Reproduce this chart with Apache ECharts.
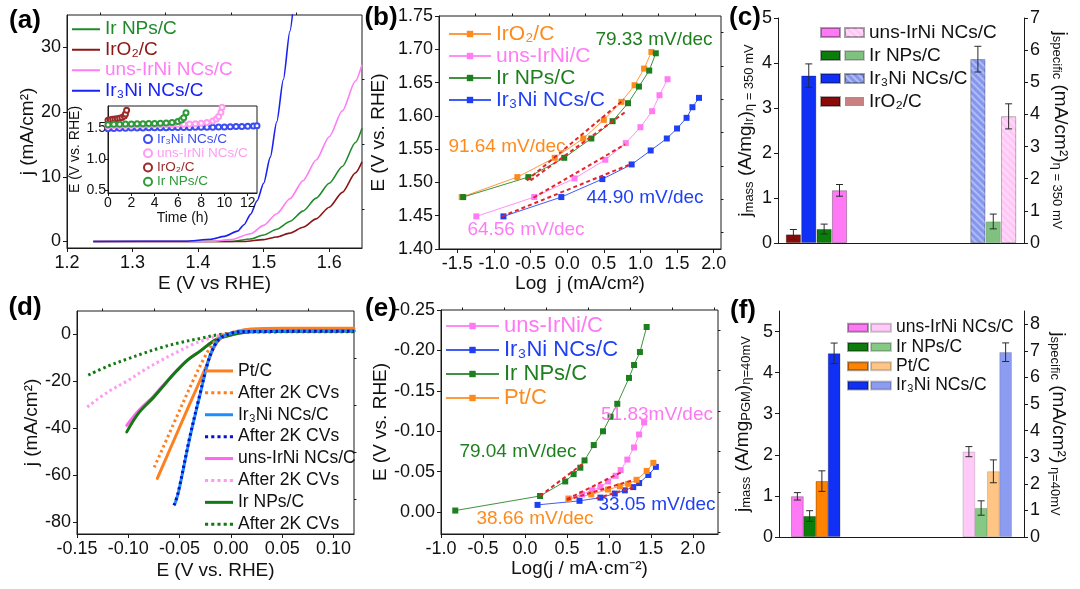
<!DOCTYPE html>
<html><head><meta charset="utf-8">
<script src="https://cdn.jsdelivr.net/npm/echarts@6/dist/echarts.min.js"></script>
<style>
html,body{margin:0;padding:0;background:#fff;}
#wrap{position:relative;width:1080px;height:589px;overflow:hidden;background:#fff;}
.layer{position:absolute;left:0;top:0;width:1080px;height:589px;}
</style></head><body><div id="wrap">
<div class="layer" id="pa"></div><div class="layer" id="pb"></div><div class="layer" id="pc"></div>
<div class="layer" id="pd"></div><div class="layer" id="pe"></div><div class="layer" id="pf"></div>
<div class="layer" id="pins"></div>
</div>
<script>
// ================= DATA =================
// (a) OER polarization curves  [E (V vs RHE), j (mA/cm2)]
const aXTicks = [1.2, 1.3, 1.4, 1.5, 1.6];
const aYTicks = [0, 10, 20, 30];
const aIrNP  = [[1.24,0],[1.45,0],[1.48,0.4],[1.50,1.0],[1.52,1.9],[1.54,3.1],[1.56,4.7],[1.58,6.7],[1.60,9.0],[1.62,11.6],[1.64,15.3],[1.65,17.5]];
const aIrO2  = [[1.24,0],[1.47,0],[1.50,0.3],[1.52,0.7],[1.54,1.3],[1.56,2.2],[1.58,3.5],[1.60,5.3],[1.62,7.6],[1.64,10.6],[1.65,12.3]];
const aUns   = [[1.24,0],[1.42,0],[1.45,0.3],[1.48,1.2],[1.50,2.5],[1.52,4.3],[1.54,6.6],[1.56,9.4],[1.58,12.6],[1.60,16.2],[1.62,20.2],[1.64,24.8],[1.65,27.3]];
const aIr3Ni = [[1.24,0],[1.38,0.05],[1.42,0.35],[1.44,0.8],[1.46,1.6],[1.47,2.6],[1.48,4.2],[1.49,6.3],[1.50,9.0],[1.51,13.0],[1.52,18.5],[1.53,25.0],[1.54,32.5],[1.546,37]];
// (a) inset: chronopotentiometry [time (h), E (V vs RHE)]
const insXTicks = [0, 2, 4, 6, 8, 10, 12];
const insYTicks = [0.5, 1.0, 1.5];
const insIr3Ni = [[0,1.485],[0.5,1.488],[1,1.49],[1.5,1.492],[2,1.494],[2.5,1.495],[3,1.497],[3.5,1.498],[4,1.5],[4.5,1.501],[5,1.502],[5.5,1.503],[6,1.504],[6.5,1.505],[7,1.506],[7.5,1.507],[8,1.508],[8.5,1.509],[9,1.51],[9.5,1.512],[10,1.514],[10.5,1.516],[11,1.519],[11.5,1.522],[12,1.526],[12.5,1.53],[12.8,1.533]];
const insUns   = [[0,1.53],[0.5,1.535],[1,1.538],[1.5,1.54],[2,1.542],[2.5,1.544],[3,1.545],[3.5,1.547],[4,1.548],[4.5,1.55],[5,1.551],[5.5,1.553],[6,1.555],[6.5,1.557],[7,1.56],[7.5,1.565],[8,1.572],[8.5,1.585],[9,1.61],[9.3,1.64],[9.5,1.68],[9.7,1.75],[9.8,1.83]];
const insIrO2  = [[0,1.62],[0.2,1.63],[0.4,1.635],[0.6,1.64],[0.8,1.645],[1,1.652],[1.2,1.665],[1.4,1.69],[1.5,1.72],[1.6,1.78]];
const insIrNP  = [[0,1.55],[0.5,1.555],[1,1.558],[1.5,1.56],[2,1.562],[2.5,1.564],[3,1.566],[3.5,1.568],[4,1.57],[4.5,1.573],[5,1.577],[5.5,1.584],[6,1.6],[6.3,1.625],[6.5,1.66],[6.7,1.74]];

// (b) OER Tafel plots [log j, E]
const bXTicks = [-1.5, -1.0, -0.5, 0.0, 0.5, 1.0, 1.5, 2.0];
const bYTicks = [1.40, 1.45, 1.50, 1.55, 1.60, 1.65, 1.70, 1.75];
const bIrO2  = [[-1.44,1.478],[-0.68,1.508],[-0.17,1.537],[0.22,1.566],[0.50,1.594],[0.74,1.621],[0.92,1.646],[1.05,1.671],[1.15,1.696]];
const bUns   = [[-1.24,1.449],[-0.45,1.478],[0.10,1.506],[0.52,1.534],[0.80,1.559],[1.00,1.583],[1.16,1.607],[1.26,1.631],[1.37,1.655]];
const bIrNP  = [[-1.42,1.478],[-0.53,1.508],[-0.04,1.537],[0.33,1.566],[0.62,1.592],[0.83,1.619],[0.98,1.644],[1.12,1.668],[1.21,1.694]];
const bIr3Ni = [[-0.87,1.449],[-0.08,1.478],[0.48,1.505],[0.88,1.527],[1.14,1.548],[1.36,1.566],[1.50,1.581],[1.63,1.597],[1.71,1.613],[1.80,1.627]];
const bFitIrO2  = [[-0.55,1.503],[0.78,1.625]];
const bFitIrNP  = [[-0.50,1.503],[0.81,1.607]];
const bFitUns   = [[-0.46,1.477],[0.79,1.557]];
const bFitIr3Ni = [[-0.89,1.449],[0.88,1.528]];
const bSlopeTexts = ['79.33 mV/dec', '91.64 mV/dec', '44.90 mV/dec', '64.56 mV/dec'];

// (c) OER activity bars
const cMassNames = ['IrO₂/C', 'Ir₃Ni NCs/C', 'Ir NPs/C', 'uns-IrNi NCs/C'];
const cMass      = [0.19, 3.72, 0.31, 1.17];
const cMassErr   = [0.11, 0.26, 0.11, 0.13];
const cSpecNames = ['Ir₃Ni NCs/C', 'Ir NPs/C', 'uns-IrNi NCs/C'];
const cSpec      = [5.72, 0.67, 3.94];
const cSpecErr   = [0.40, 0.23, 0.39];
const cLeftTicks  = [0, 1, 2, 3, 4, 5];
const cRightTicks = [0, 1, 2, 3, 4, 5, 6, 7];

// (d) HER polarization curves [E, j]
const dXTicks = [-0.15, -0.10, -0.05, 0.00, 0.05, 0.10];
const dYTicks = [-80, -60, -40, -20, 0];
const dPt        = [[-0.0717,-61.3],[-0.053,-42.5],[-0.037,-26.5],[-0.024,-13.5],[-0.017,-6.0],[-0.011,-2.0],[-0.005,-0.3],[0.005,1.2],[0.02,2.3],[0.05,2.6],[0.12,2.6]];
const dPtAfter   = [[-0.0747,-56.6],[-0.056,-38.2],[-0.037,-19.8],[-0.026,-10.0],[-0.018,-4.2],[-0.011,-1.2],[-0.004,0.3],[0.01,1.6],[0.025,2.2],[0.12,2.3]];
const dIr3Ni     = [[-0.0546,-72.2],[-0.051,-67.0],[-0.040,-44.0],[-0.030,-25.5],[-0.0222,-11.5],[-0.017,-5.5],[-0.012,-2.2],[-0.005,-0.2],[0.01,1.3],[0.12,1.6]];
const dIr3NiAft  = [[-0.0555,-72.8],[-0.0515,-67.5],[-0.0405,-44.5],[-0.0305,-26.0],[-0.0225,-12.0],[-0.0172,-5.8],[-0.0122,-2.3],[-0.0052,-0.3],[0.01,1.2],[0.12,1.4]];
const dUns       = [[-0.1015,-38.7],[-0.09,-32.5],[-0.0756,-26.4],[-0.065,-21.2],[-0.053,-15.5],[-0.042,-10.8],[-0.030,-7.1],[-0.022,-4.4],[-0.014,-2.1],[0.002,0.0],[0.02,1.3],[0.12,1.7]];
const dUnsAfter  = [[-0.140,-30.9],[-0.120,-24.5],[-0.101,-19.8],[-0.085,-15.3],[-0.069,-11.3],[-0.053,-7.6],[-0.037,-4.2],[-0.025,-2.2],[-0.014,-0.7],[0.0,0.5],[0.02,1.2],[0.12,1.5]];
const dIrNP      = [[-0.1015,-41.5],[-0.09,-33.5],[-0.0756,-26.9],[-0.065,-21.5],[-0.053,-15.6],[-0.042,-10.8],[-0.030,-7.1],[-0.022,-4.4],[-0.014,-2.1],[0.002,0.0],[0.02,1.2],[0.12,1.5]];
const dIrNPAfter = [[-0.139,-17.3],[-0.12,-13.5],[-0.10,-10.3],[-0.085,-8.0],[-0.069,-5.7],[-0.05,-3.5],[-0.030,-1.7],[-0.011,0.0],[0.02,1.0],[0.12,1.2]];

// (e) HER Tafel plots [log j, E]
const eXTicks = [-1.0, -0.5, 0.0, 0.5, 1.0, 1.5, 2.0];
const eYTicks = [-0.25, -0.20, -0.15, -0.10, -0.05, 0.00];
const eUns   = [[0.52,-0.017],[0.68,-0.022],[0.80,-0.027],[0.90,-0.031],[0.99,-0.038],[1.08,-0.045],[1.14,-0.052],[1.22,-0.065],[1.30,-0.080],[1.36,-0.096],[1.42,-0.111]];
const eIr3Ni = [[0.15,-0.009],[0.65,-0.014],[0.90,-0.018],[1.07,-0.023],[1.19,-0.027],[1.29,-0.031],[1.36,-0.036],[1.47,-0.046],[1.56,-0.056]];
const eIrNP  = [[-0.83,-0.002],[0.18,-0.020],[0.48,-0.038],[0.58,-0.047],[0.66,-0.055],[0.71,-0.064],[0.82,-0.083],[0.93,-0.100],[1.02,-0.118],[1.10,-0.134],[1.24,-0.166],[1.30,-0.182],[1.37,-0.198],[1.45,-0.229]];
const ePt    = [[0.52,-0.016],[0.79,-0.022],[0.99,-0.028],[1.13,-0.032],[1.23,-0.035],[1.33,-0.040],[1.45,-0.051],[1.53,-0.061]];
const eFitIrNP  = [[0.18,-0.020],[0.69,-0.060]];
const eFitUns   = [[0.50,-0.016],[1.14,-0.049]];
const eFitPt    = [[0.50,-0.015],[1.30,-0.040]];
const eFitIr3Ni = [[0.85,-0.017],[1.30,-0.031]];
const eSlopeTexts = ['79.04 mV/dec', '51.83mV/dec', '33.05 mV/dec', '38.66 mV/dec'];

// (f) HER activity bars
const fNames   = ['uns-IrNi NCs/C', 'Ir NPs/C', 'Pt/C', 'Ir₃Ni NCs/C'];
const fMass    = [0.99, 0.51, 1.36, 4.47];
const fMassErr = [0.09, 0.13, 0.25, 0.25];
const fSpec    = [3.21, 1.09, 2.47, 6.95];
const fSpecErr = [0.19, 0.27, 0.43, 0.35];
const fLeftTicks  = [0, 1, 2, 3, 4, 5];
const fRightTicks = [0, 1, 2, 3, 4, 5, 6, 7, 8];

// ================= STYLE HELPERS =================
const FONT = '"Liberation Sans", Arial, Helvetica, sans-serif';
const AX = '#1a1a1a', TXT = '#111';
const fix = d => v => (Math.abs(v) < 1e-9 ? 0 : v).toFixed(d);
const ICON_SOLID = 'rect';
const ICON_DOT = 'path://M0,0h3v3h-3z M6,0h3v3h-3z M12,0h3v3h-3z M18,0h3v3h-3z M24,0h3v3h-3z';

function vAxis(o) {
  return {
    type: 'value', min: o.min, max: o.max, inverse: !!o.inverse, position: o.position,
    splitLine: { show: false },
    axisLine: { show: o.line !== false, onZero: false, lineStyle: { color: AX, width: 1 } },
    axisTick: { show: true, length: o.tickLen || 4, lineStyle: { color: AX }, customValues: o.ticks },
    axisLabel: { show: o.noLabel ? false : true, color: TXT, fontSize: o.fs || 18, fontFamily: FONT, margin: o.margin || 6, customValues: o.ticks, formatter: o.fmt || (v => String(v)) },
    name: o.name, nameLocation: 'middle', nameGap: o.nameGap, nameRotate: o.nameRotate,
    nameTextStyle: Object.assign({ color: TXT, fontSize: o.nfs || 19, fontFamily: FONT }, o.nameStyle || {})
  };
}
// secondary axis that only carries the short minor ticks
function minorAxis(min, max, vals, extra) {
  return Object.assign(vAxis({ min, max, ticks: vals, tickLen: 2.5, line: false, noLabel: true }), extra || {});
}
function lineS(name, data, color, extra) {
  return Object.assign({
    type: 'line', name, data, symbol: 'none', smooth: 0.25, smoothMonotone: 'x',
    lineStyle: { color, width: 1.6 }, itemStyle: { color }, z: 3
  }, extra || {});
}
function tafelS(name, data, color) {
  return { type: 'line', name, data, symbol: 'rect', symbolSize: 6, showAllSymbol: true,
    lineStyle: { color, width: 1, opacity: 0.85 }, itemStyle: { color }, z: 4 };
}
function fitS(data) {
  return { type: 'line', name: 'fit', data, symbol: 'none', silent: true,
    lineStyle: { color: '#e3242b', width: 2, type: [4, 3] }, z: 5 };
}
function txt(x, y, s, color, size, bold) {
  return { type: 'text', x, y, style: { text: s, fill: color, fontSize: size, fontFamily: FONT,
    fontWeight: bold ? 'bold' : 'normal', align: 'center', verticalAlign: 'middle' }, z: 20 };
}
function legendItems(names, colors, icons) {
  return names.map((n, i) => { const it = { name: n, textStyle: { color: colors[i] } }; if (icons) it.icon = icons[i]; return it; });
}
function errS(yAxisIndex, data) {
  return { type: 'custom', yAxisIndex, data, z: 10, silent: true, encode: { x: 0, y: 1 },
    renderItem(params, api) {
      const x = api.value(0), v = api.value(1), e = api.value(2);
      const t = api.coord([x, v + e]), b = api.coord([x, v - e]);
      const hw = 3.5, st = { stroke: '#2a2a2a', lineWidth: 1 };
      return { type: 'group', children: [
        { type: 'line', shape: { x1: t[0], y1: t[1], x2: b[0], y2: b[1] }, style: st },
        { type: 'line', shape: { x1: t[0] - hw, y1: t[1], x2: t[0] + hw, y2: t[1] }, style: st },
        { type: 'line', shape: { x1: b[0] - hw, y1: b[1], x2: b[0] + hw, y2: b[1] }, style: st } ] };
    } };
}
function slotData(n, slot, val) { const d = new Array(n).fill('-'); d[slot] = val; return d; }
const mk = id => echarts.init(document.getElementById(id), null, { width: 1080, height: 589, renderer: 'canvas' });
const SUB = { m: { fontSize: 19, lineHeight: 20, fontFamily: FONT, color: TXT },
              s: { fontSize: 13, lineHeight: 13, fontFamily: FONT, color: TXT, verticalAlign: 'bottom', padding: [9, 0, 0, 0] } };

// ================= (a) =================
const cA = { green: '#1f8a2a', red: '#8b1616', pink: '#ff7cf5', blue: '#1a22f2' };
mk('pa').setOption({
  animation: false, textStyle: { fontFamily: FONT },
  grid: { left: 67, top: 15, width: 295, height: 233, show: true, borderColor: AX, borderWidth: 1 },
  xAxis: [ vAxis({ min: 1.2, max: 1.65, ticks: aXTicks, fmt: fix(1), name: 'E (V vs RHE)', nameGap: 26 }),
           minorAxis(1.2, 1.65, [1.25, 1.35, 1.45, 1.55]) ],
  yAxis: [ vAxis({ min: -1, max: 35, ticks: aYTicks, name: 'j (mA/cm²)', nameGap: 30 }),
           minorAxis(-1, 35, [5, 15, 25]) ],
  legend: { orient: 'vertical', left: 72, top: 19, padding: 0, itemWidth: 28, itemHeight: 2, itemGap: 0, symbolKeepAspect: false,
    textStyle: { fontSize: 19, lineHeight: 20.5, fontFamily: FONT },
    data: legendItems(['Ir NPs/C', 'IrO₂/C', 'uns-IrNi NCs/C', 'Ir₃Ni NCs/C'], [cA.green, cA.red, cA.pink, cA.blue], new Array(4).fill(ICON_SOLID)) },
  series: [
    lineS('Ir NPs/C', aIrNP, cA.green), lineS('IrO₂/C', aIrO2, cA.red),
    lineS('uns-IrNi NCs/C', aUns, cA.pink), lineS('Ir₃Ni NCs/C', aIr3Ni, cA.blue)
  ],
  graphic: [ txt(25, 21, '(a)', '#000', 26, true) ]
});

// ================= inset =================
const cI = { blue: '#3b4cf0', pink: '#ff9cf0', red: '#9b2a2a', green: '#2f9a3a' };
function insS(name, data, color) {
  return { type: 'line', name, data, symbol: 'emptyCircle', symbolSize: 5, showAllSymbol: true,
    lineStyle: { color, width: 3, opacity: 0.8 }, itemStyle: { color, borderWidth: 1 }, z: 3 };
}
mk('pins').setOption({
  animation: false, textStyle: { fontFamily: FONT },
  grid: { left: 108, top: 106, width: 149, height: 87, show: true, borderColor: AX, borderWidth: 1, backgroundColor: '#fff' },
  xAxis: vAxis({ min: 0, max: 12.8, ticks: insXTicks, fs: 14, margin: 3, tickLen: 3, name: 'Time (h)', nameGap: 18, nfs: 14 }),
  yAxis: vAxis({ min: 0.45, max: 1.85, ticks: insYTicks, fmt: fix(1), fs: 14, margin: 2, tickLen: 3, name: 'E (V vs. RHE)', nameGap: 21, nfs: 14 }),
  legend: { orient: 'vertical', left: 143, top: 132, padding: 0, icon: 'emptyCircle', itemWidth: 8, itemHeight: 8, itemGap: 0,
    textStyle: { fontSize: 13.5, lineHeight: 14.2, fontFamily: FONT },
    data: legendItems(['Ir₃Ni NCs/C', 'uns-IrNi NCs/C', 'IrO₂/C', 'Ir NPs/C'], [cI.blue, cI.pink, cI.red, cI.green]) },
  series: [ insS('Ir₃Ni NCs/C', insIr3Ni, cI.blue), insS('uns-IrNi NCs/C', insUns, cI.pink),
            insS('IrO₂/C', insIrO2, cI.red), insS('Ir NPs/C', insIrNP, cI.green) ]
});

// ================= (b) =================
const cB = { orange: '#ff8a1c', pink: '#ff7cf5', green: '#1e7f1e', blue: '#1f3ff5' };
mk('pb').setOption({
  animation: false, textStyle: { fontFamily: FONT },
  grid: { left: 439, top: 16, width: 282, height: 233, show: true, borderColor: AX, borderWidth: 1 },
  xAxis: [ vAxis({ min: -1.75, max: 2.1, ticks: bXTicks, fmt: fix(1), name: 'Log  j (mA/cm²)', nameGap: 25 }),
           minorAxis(-1.75, 2.1, [-1.25, -0.75, -0.25, 0.25, 0.75, 1.25, 1.75]) ],
  yAxis: [ vAxis({ min: 1.40, max: 1.75, ticks: bYTicks, fmt: fix(2), name: 'E (V vs. RHE)', nameGap: 51 }),
           minorAxis(1.40, 1.75, [1.425, 1.475, 1.525, 1.575, 1.625, 1.675, 1.725]) ],
  legend: { orient: 'vertical', left: 448, top: 23, padding: 0, itemWidth: 42, itemHeight: 8, itemGap: 0,
    textStyle: { fontSize: 21, lineHeight: 22, fontFamily: FONT },
    data: legendItems(['IrO₂/C', 'uns-IrNi/C', 'Ir NPs/C', 'Ir₃Ni NCs/C'], [cB.orange, cB.pink, cB.green, cB.blue]) },
  series: [
    tafelS('IrO₂/C', bIrO2, cB.orange), tafelS('uns-IrNi/C', bUns, cB.pink),
    tafelS('Ir NPs/C', bIrNP, cB.green), tafelS('Ir₃Ni NCs/C', bIr3Ni, cB.blue),
    fitS(bFitIrO2), fitS(bFitIrNP), fitS(bFitUns), fitS(bFitIr3Ni)
  ],
  graphic: [ txt(381, 18, '(b)', '#000', 26, true),
    txt(654, 40, bSlopeTexts[0], cB.green, 19), txt(507, 147, bSlopeTexts[1], cB.orange, 19),
    txt(645, 198, bSlopeTexts[2], cB.blue, 19), txt(526, 230, bSlopeTexts[3], cB.pink, 19) ]
});

// ================= (c) =================
const C_SLOTS = 17, cMassSlots = [1, 2, 3, 4], cSpecSlots = [13, 14, 15];
const cSolid = { 'IrO₂/C': '#8b0a0a', 'Ir₃Ni NCs/C': '#1030f5', 'Ir NPs/C': '#0b7d0b', 'uns-IrNi NCs/C': '#ff78f5' };
const cLight = { 'IrO₂/C': '#c98080', 'Ir₃Ni NCs/C': '#8596ee', 'Ir NPs/C': '#7fc17f', 'uns-IrNi NCs/C': '#ffc6f6' };
const hatch = { symbol: 'rect', symbolSize: 1, color: 'rgba(255,255,255,0.35)', dashArrayX: [1, 0], dashArrayY: [2, 3], rotation: Math.PI / 4 };
const cSeries = [];
cMassNames.forEach((n, i) => cSeries.push({ type: 'bar', name: n, yAxisIndex: 0, barWidth: 15, barGap: '-100%',
  data: slotData(C_SLOTS, cMassSlots[i], cMass[i]), itemStyle: { color: cSolid[n], borderColor: 'rgba(0,0,0,0.35)', borderWidth: 0.8 } }));
cSpecNames.forEach((n, i) => cSeries.push({ type: 'bar', name: n + ' ', yAxisIndex: 1, barWidth: 15, barGap: '-100%',
  data: slotData(C_SLOTS, cSpecSlots[i], cSpec[i]),
  itemStyle: { color: cLight[n], borderColor: 'rgba(0,0,0,0.2)', borderWidth: 0.8, decal: n === 'Ir NPs/C' ? null : hatch } }));
cSeries.push({ type: 'bar', name: 'IrO₂/C ', yAxisIndex: 1, barWidth: 15, barGap: '-100%', data: [], itemStyle: { color: cLight['IrO₂/C'] } });
cSeries.push(errS(0, cMass.map((v, i) => [cMassSlots[i], v, cMassErr[i]])));
cSeries.push(errS(1, cSpec.map((v, i) => [cSpecSlots[i], v, cSpecErr[i]])));
const cLegOrder = ['uns-IrNi NCs/C', 'Ir NPs/C', 'Ir₃Ni NCs/C', 'IrO₂/C'];
mk('pc').setOption({
  animation: false, textStyle: { fontFamily: FONT },
  grid: { left: 778, top: 18, width: 246, height: 225 },
  xAxis: { type: 'category', boundaryGap: false, data: new Array(C_SLOTS).fill(''), axisTick: { show: false }, axisLabel: { show: false },
    axisLine: { lineStyle: { color: AX } } },
  yAxis: [
    vAxis({ min: 0, max: 5, ticks: cLeftTicks, name: '{m|j}{s|mass}{m| (A/mg}{s|Ir}{m|)}{s|η = 350 mV}', nameGap: 22, nameStyle: { rich: SUB } }),
    vAxis({ min: 0, max: 7, ticks: cRightTicks, position: 'right', name: '{m|j}{s|specific}{m| (mA/cm²)}{s|η = 350 mV}', nameGap: 26, nameRotate: -90, nameStyle: { rich: SUB } })
  ],
  legend: [
    { orient: 'vertical', left: 820, top: 21, padding: 0, icon: 'rect', itemWidth: 19, itemHeight: 9, itemGap: 0, formatter: () => ' ',
      textStyle: { fontSize: 19, lineHeight: 23 }, data: cLegOrder },
    { orient: 'vertical', left: 844, top: 21, padding: 0, icon: 'rect', itemWidth: 19, itemHeight: 9, itemGap: 0, formatter: n => n.trim(),
      textStyle: { fontSize: 19, lineHeight: 23, color: TXT, fontFamily: FONT }, data: cLegOrder.map(n => n + ' ') }
  ],
  series: cSeries,
  graphic: [ txt(745, 18, '(c)', '#000', 26, true) ]
});

// ================= (d) =================
const cD = { orange: '#ff7f1e', blue: '#1e8cff', dblue: '#0a12c8', pink: '#ff66f0', lpink: '#ff99f2', green: '#137a13' };
const dLegendNames = ['Pt/C', 'Pt/C after', 'Ir₃Ni NCs/C', 'Ir₃Ni after', 'uns-IrNi NCs/C', 'uns-IrNi after', 'Ir NPs/C', 'Ir NPs after'];
const dLabel = n => n.endsWith('after') ? 'After 2K CVs' : n;
const solidD = (n, d, c) => lineS(n, d, c, { smooth: 0.35, smoothMonotone: null, lineStyle: { color: c, width: 3, join: 'round', cap: 'round' } });
const dotD = (n, d, c) => lineS(n, d, c, { smooth: 0.35, smoothMonotone: null, lineStyle: { color: c, width: 3, type: [2.5, 3] } });
mk('pd').setOption({
  animation: false, textStyle: { fontFamily: FONT },
  grid: { left: 77, top: 311, width: 277, height: 223, show: true, borderColor: AX, borderWidth: 1 },
  xAxis: [ vAxis({ min: -0.15, max: 0.12, ticks: dXTicks, fmt: fix(2), name: 'E (V vs. RHE)', nameGap: 27 }),
           minorAxis(-0.15, 0.12, [-0.125, -0.075, -0.025, 0.025, 0.075]) ],
  yAxis: [ vAxis({ min: -85, max: 10, ticks: dYTicks, name: 'j (mA/cm²)', nameGap: 36 }),
           minorAxis(-85, 10, [-70, -50, -30, -10]) ],
  legend: { orient: 'vertical', left: 205, top: 360, padding: 0, itemWidth: 28, itemHeight: 3, itemGap: 0, symbolKeepAspect: false, formatter: dLabel,
    textStyle: { fontSize: 17.5, lineHeight: 21.9, color: TXT, fontFamily: FONT },
    data: dLegendNames.map(n => ({ name: n, icon: n.endsWith('after') ? ICON_DOT : ICON_SOLID })) },
  series: [
    dotD('Ir NPs after', dIrNPAfter, cD.green), dotD('uns-IrNi after', dUnsAfter, cD.lpink),
    solidD('uns-IrNi NCs/C', dUns, cD.pink), solidD('Ir NPs/C', dIrNP, cD.green),
    dotD('Pt/C after', dPtAfter, cD.orange), solidD('Pt/C', dPt, cD.orange),
    solidD('Ir₃Ni NCs/C', dIr3Ni, cD.blue), dotD('Ir₃Ni after', dIr3NiAft, cD.dblue)
  ],
  graphic: [ txt(25, 308, '(d)', '#000', 26, true) ]
});

// ================= (e) =================
const cE = { pink: '#ff77f2', blue: '#1f3ff5', green: '#1e7f1e', orange: '#ff8a1c' };
mk('pe').setOption({
  animation: false, textStyle: { fontFamily: FONT },
  grid: { left: 441, top: 310, width: 277, height: 224, show: true, borderColor: AX, borderWidth: 1 },
  xAxis: [ vAxis({ min: -1.0, max: 2.3, ticks: eXTicks, fmt: fix(1), name: 'Log(j / mA·cm⁻²)', nameGap: 25 }),
           minorAxis(-1.0, 2.3, [-0.75, -0.25, 0.25, 0.75, 1.25, 1.75, 2.25]) ],
  yAxis: [ vAxis({ min: -0.25, max: 0.027, inverse: true, ticks: eYTicks, fmt: fix(2), name: 'E (V vs. RHE)', nameGap: 51 }),
           minorAxis(-0.25, 0.027, [-0.225, -0.175, -0.125, -0.075, -0.025, 0.025], { inverse: true }) ],
  legend: { orient: 'vertical', left: 445, top: 314, padding: 0, itemWidth: 53, itemHeight: 8, itemGap: 0,
    textStyle: { fontSize: 22, lineHeight: 24, fontFamily: FONT },
    data: legendItems(['uns-IrNi/C', 'Ir₃Ni NCs/C', 'Ir NPs/C', 'Pt/C'], [cE.pink, cE.blue, cE.green, cE.orange]) },
  series: [
    tafelS('uns-IrNi/C', eUns, cE.pink), tafelS('Ir₃Ni NCs/C', eIr3Ni, cE.blue),
    tafelS('Ir NPs/C', eIrNP, cE.green), tafelS('Pt/C', ePt, cE.orange),
    fitS(eFitIrNP), fitS(eFitUns), fitS(eFitPt), fitS(eFitIr3Ni)
  ],
  graphic: [ txt(381, 309, '(e)', '#000', 26, true),
    txt(518, 452, eSlopeTexts[0], cE.green, 19), txt(657, 415, eSlopeTexts[1], cE.pink, 19),
    txt(657, 505, eSlopeTexts[2], cE.blue, 19), txt(535, 519, eSlopeTexts[3], cE.orange, 19) ]
});

// ================= (f) =================
const F_SLOTS = 20, fMassSlots = [1, 2, 3, 4], fSpecSlots = [15, 16, 17, 18];
const fSolid = { 'uns-IrNi NCs/C': '#ff78f5', 'Ir NPs/C': '#0b7d0b', 'Pt/C': '#ff8200', 'Ir₃Ni NCs/C': '#1030f5' };
const fLight = { 'uns-IrNi NCs/C': '#ffcaf8', 'Ir NPs/C': '#85c985', 'Pt/C': '#ffc584', 'Ir₃Ni NCs/C': '#8c9cf0' };
const fSeries = [];
fNames.forEach((n, i) => fSeries.push({ type: 'bar', name: n, yAxisIndex: 0, barWidth: 12.5, barGap: '-100%',
  data: slotData(F_SLOTS, fMassSlots[i], fMass[i]), itemStyle: { color: fSolid[n], borderColor: 'rgba(0,0,0,0.35)', borderWidth: 0.8 } }));
fNames.forEach((n, i) => fSeries.push({ type: 'bar', name: n + ' ', yAxisIndex: 1, barWidth: 12.5, barGap: '-100%',
  data: slotData(F_SLOTS, fSpecSlots[i], fSpec[i]), itemStyle: { color: fLight[n], borderColor: 'rgba(0,0,0,0.2)', borderWidth: 0.8 } }));
fSeries.push(errS(0, fMass.map((v, i) => [fMassSlots[i], v, fMassErr[i]])));
fSeries.push(errS(1, fSpec.map((v, i) => [fSpecSlots[i], v, fSpecErr[i]])));
mk('pf').setOption({
  animation: false, textStyle: { fontFamily: FONT },
  grid: { left: 779, top: 311, width: 245, height: 226 },
  xAxis: { type: 'category', boundaryGap: true, data: new Array(F_SLOTS).fill(''), axisTick: { show: false }, axisLabel: { show: false },
    axisLine: { lineStyle: { color: AX } } },
  yAxis: [
    vAxis({ min: 0, max: 5.5, ticks: fLeftTicks, name: '{m|j}{s|mass}{m| (A/mg}{s|PGM}{m|)}{s|η=40mV}', nameGap: 26, nameStyle: { rich: SUB } }),
    vAxis({ min: 0, max: 8.5, ticks: fRightTicks, position: 'right', name: '{m|j}{s|specific}{m| (mA/cm²)}{s| η=40mV}', nameGap: 24, nameRotate: -90, nameStyle: { rich: SUB } })
  ],
  legend: [
    { orient: 'vertical', left: 847, top: 318, padding: 0, icon: 'rect', itemWidth: 20, itemHeight: 8, itemGap: 0, formatter: () => ' ',
      textStyle: { fontSize: 17.5, lineHeight: 19.3 }, data: fNames },
    { orient: 'vertical', left: 870, top: 318, padding: 0, icon: 'rect', itemWidth: 20, itemHeight: 8, itemGap: 0, formatter: n => n.trim(),
      textStyle: { fontSize: 17.5, lineHeight: 19.3, color: TXT, fontFamily: FONT }, data: fNames.map(n => n + ' ') }
  ],
  series: fSeries,
  graphic: [ txt(743, 311, '(f)', '#000', 26, true) ]
});
</script></body></html>
